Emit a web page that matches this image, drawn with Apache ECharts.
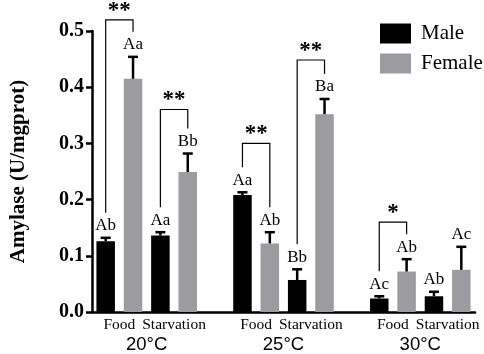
<!DOCTYPE html>
<html>
<head>
<meta charset="utf-8">
<script src="https://cdn.jsdelivr.net/npm/echarts@6/dist/echarts.min.js"></script>
<style>
  html, body { margin: 0; padding: 0; background: #fff; }
  #chart { width: 484px; height: 354px; }
</style>
</head>
<body>
<div id="chart"></div>
<script>
// groups on the x axis
const temps = ['20°C', '25°C', '30°C'];
const treatments = ['Food', 'Starvation'];
const sexes = ['Male', 'Female'];

// conditions in order: 20 Food, 20 Starv, 25 Food, 25 Starv, 30 Food, 30 Starv
const maleMean = [0.126, 0.136, 0.208, 0.057, 0.024, 0.028];
const maleErr = [0.006, 0.006, 0.005, 0.019, 0.004, 0.008];
const femaleMean = [0.415, 0.249, 0.122, 0.352, 0.072, 0.075];
const femaleErr = [0.039, 0.033, 0.020, 0.027, 0.022, 0.041];
const maleLetters = ['Ab', 'Aa', 'Aa', 'Bb', 'Ac', 'Ab'];
const femaleLetters = ['Aa', 'Bb', 'Ab', 'Ba', 'Ab', 'Ac'];
const sigMarks = ['**', '**', '**', '**', '*', ''];

// layout tweaks (px) for the bracket tops
const bracketRise = [12, 19, 24, 14, 12, 0];

const SERIF = '"Liberation Serif", "Times New Roman", serif';
const SANS = '"Liberation Sans", Arial, sans-serif';
const GREY = '#9b9ba0';

// 14 slots: M F M F | gap | M F M F | gap | M F M F
const slots = [];
temps.forEach(function (t, ti) {
  treatments.forEach(function (tr) {
    sexes.forEach(function (s) { slots.push(t + ' ' + tr + ' ' + s); });
  });
  if (ti < temps.length - 1) slots.push('gap' + ti);
});
function maleSlot(c) { return Math.floor(c / 2) * 5 + (c % 2) * 2; }

const maleData = slots.map(function () { return '-'; });
const femaleData = slots.map(function () { return '-'; });
const errData = [], letterData = [], letterText = [];
maleMean.forEach(function (v, c) {
  const ms = maleSlot(c);
  maleData[ms] = v;
  femaleData[ms + 1] = femaleMean[c];
  errData.push([ms, v, maleErr[c]]);
  errData.push([ms + 1, femaleMean[c], femaleErr[c]]);
  letterData.push([ms, v + maleErr[c]]);
  letterText.push(maleLetters[c]);
  letterData.push([ms + 1, femaleMean[c] + femaleErr[c]]);
  letterText.push(femaleLetters[c]);
});

const bracketIdx = [];
sigMarks.forEach(function (m, c) { if (m) bracketIdx.push(c); });
const bracketData = bracketIdx.map(function (c) { return [maleSlot(c), maleMean[c] + maleErr[c]]; });

const treatData = [], treatText = [];
temps.forEach(function (t, ti) {
  treatments.forEach(function (tr, k) {
    treatData.push([ti * 5 + k * 2, 0]);
    treatText.push(tr);
  });
});
const tempData = temps.map(function (t, ti) { return [ti * 5, 0]; });

const chart = echarts.init(document.getElementById('chart'));
const option = {
  animation: false,
  backgroundColor: '#fff',
  grid: { left: 86, right: 9, top: 31, bottom: 42 },
  legend: {
    data: sexes,
    orient: 'vertical',
    left: 375,
    top: 18,
    itemWidth: 31,
    itemHeight: 20,
    itemGap: 9,
    icon: 'rect',
    textStyle: { fontFamily: SERIF, fontSize: 21, color: '#000', padding: [0, 0, 0, 5] }
  },
  xAxis: {
    type: 'category',
    data: slots,
    axisLine: { lineStyle: { color: '#000', width: 2.5 } },
    axisTick: { show: false },
    axisLabel: { show: false }
  },
  yAxis: {
    type: 'value',
    min: 0,
    max: 0.5,
    interval: 0.1,
    name: 'Amylase (U/mgprot)',
    nameLocation: 'middle',
    nameGap: 63,
    nameTextStyle: { fontFamily: SERIF, fontWeight: 'bold', fontSize: 21, color: '#000' },
    axisLine: { show: true, lineStyle: { color: '#000', width: 2.5 } },
    axisTick: { show: true, length: 6, lineStyle: { color: '#000', width: 2.5 } },
    axisLabel: {
      margin: 8,
      fontFamily: SERIF, fontWeight: 'bold', fontSize: 20, color: '#000',
      formatter: function (v) { return v.toFixed(1); }
    },
    splitLine: { show: false }
  },
  series: [
    {
      name: 'Male', type: 'bar', data: maleData, barWidth: 18.5, barGap: '-100%',
      itemStyle: { color: '#000' }
    },
    {
      name: 'Female', type: 'bar', data: femaleData, barWidth: 18.5, barGap: '-100%',
      itemStyle: { color: GREY }
    },
    {
      type: 'custom', data: errData, z: 3,
      renderItem: function (params, api) {
        const x = api.value(0), m = api.value(1), s = api.value(2);
        const p0 = api.coord([x, m]);
        const p1 = api.coord([x, m + s]);
        return {
          type: 'group', children: [
            { type: 'line', shape: { x1: p0[0], y1: p0[1], x2: p1[0], y2: p1[1] }, style: { stroke: '#000', lineWidth: 2.5 } },
            { type: 'line', shape: { x1: p1[0] - 5, y1: p1[1], x2: p1[0] + 5, y2: p1[1] }, style: { stroke: '#000', lineWidth: 2.5 } }
          ]
        };
      }
    },
    {
      type: 'custom', data: letterData, z: 4,
      renderItem: function (params, api) {
        const p = api.coord([api.value(0), api.value(1)]);
        return {
          type: 'text', x: p[0], y: p[1] - 12,
          style: { text: letterText[params.dataIndex], fill: '#000', fontFamily: SERIF, fontSize: 17, align: 'center', verticalAlign: 'middle' }
        };
      }
    },
    {
      type: 'custom', data: bracketData, z: 4,
      renderItem: function (params, api) {
        const c = bracketIdx[params.dataIndex];
        const ms = maleSlot(c);
        const pl = api.coord([ms, maleMean[c] + maleErr[c]]);
        const pr = api.coord([ms + 1, femaleMean[c] + femaleErr[c]]);
        const yl = pl[1] - 25, yr = pr[1] - 25;
        const top = Math.min(yl, yr) - bracketRise[c];
        return {
          type: 'group', children: [
            { type: 'polyline', shape: { points: [[pl[0], yl], [pl[0], top], [pr[0], top], [pr[0], yr]] }, style: { stroke: '#000', lineWidth: 1.2, fill: null } },
            { type: 'text', x: (pl[0] + pr[0]) / 2, y: top - 9, style: { text: sigMarks[c], fill: '#000', fontFamily: SERIF, fontWeight: 'bold', fontSize: 23, align: 'center', verticalAlign: 'middle' } }
          ]
        };
      }
    },
    {
      type: 'custom', data: treatData,
      renderItem: function (params, api) {
        const a = api.coord([api.value(0), 0]);
        const b = api.coord([api.value(0) + 1, 0]);
        return {
          type: 'text', x: (a[0] + b[0]) / 2, y: a[1] + 13,
          style: { text: treatText[params.dataIndex], fill: '#000', fontFamily: SERIF, fontSize: 15.5, align: 'center', verticalAlign: 'middle' }
        };
      }
    },
    {
      type: 'custom', data: tempData,
      renderItem: function (params, api) {
        const a = api.coord([api.value(0), 0]);
        const b = api.coord([api.value(0) + 3, 0]);
        return {
          type: 'text', x: (a[0] + b[0]) / 2, y: a[1] + 33,
          style: { text: temps[params.dataIndex], fill: '#000', fontFamily: SANS, fontSize: 18.5, align: 'center', verticalAlign: 'middle' }
        };
      }
    }
  ]
};
chart.setOption(option);
</script>
</body>
</html>
